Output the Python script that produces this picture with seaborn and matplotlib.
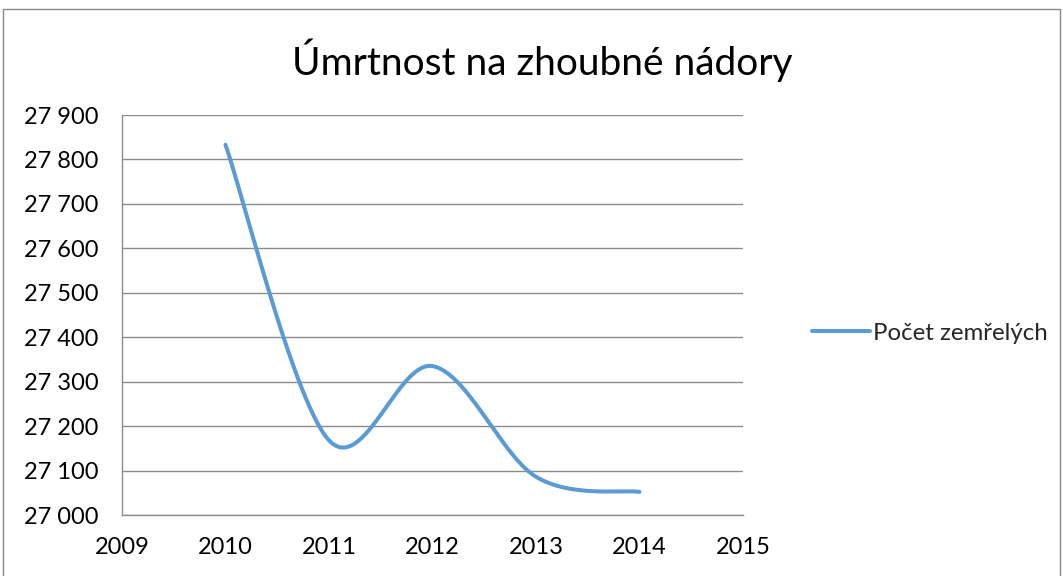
import numpy as np
import pandas as pd
import matplotlib
matplotlib.use("Agg")
import matplotlib.pyplot as plt
import seaborn as sns
from matplotlib.patches import Rectangle
from matplotlib.ticker import FuncFormatter

years = [2010, 2011, 2012, 2013, 2014]
deaths = [27833, 27168, 27335, 27086, 27052]
series_name = "Počet zemřelých"
title = "Úmrtnost na zhoubné nádory"
y_ticks = [27000, 27100, 27200, 27300, 27400, 27500, 27600, 27700, 27800, 27900]
x_ticks = [2009, 2010, 2011, 2012, 2013, 2014, 2015]


def smooth(xs, ys, n=60):
    # Excel-like smoothing: Bezier segments with Catmull-Rom control points
    P = np.column_stack([xs, ys]).astype(float)
    pts = []
    for i in range(len(P) - 1):
        p0 = P[i - 1] if i > 0 else P[i]
        p1 = P[i]
        p2 = P[i + 1]
        p3 = P[i + 2] if i + 2 < len(P) else P[i + 1]
        c1 = p1 + (p2 - p0) / 6.0
        c2 = p2 - (p3 - p1) / 6.0
        t = np.linspace(0, 1, n)[:, None]
        seg = ((1 - t) ** 3) * p1 + 3 * ((1 - t) ** 2) * t * c1 + 3 * (1 - t) * t ** 2 * c2 + t ** 3 * p2
        if i > 0:
            seg = seg[1:]
        pts.append(seg)
    pts = np.vstack(pts)
    return pts[:, 0], pts[:, 1]


sx, sy = smooth(years, deaths)
df = pd.DataFrame({"year": sx, "value": sy, "series": series_name})

sns.set_theme(style="white")
plt.rcParams["font.family"] = ["Lato", "DejaVu Sans"]

fig = plt.figure(figsize=(10.63, 5.76), dpi=100)
ax = fig.add_axes([122 / 1063, 1 - 515 / 576, (743 - 122) / 1063, 400 / 576])

sns.lineplot(data=df, x="year", y="value", hue="series", sort=False,
             palette=["#5B9BD5"], linewidth=2.9, ax=ax, legend=True)

grid_c = "#8c8c8c"
ax.set_xlim(2009, 2015)
ax.set_ylim(27000, 27900)
ax.set_xticks(x_ticks)
ax.set_yticks(y_ticks)
ax.yaxis.set_major_formatter(FuncFormatter(lambda v, p: f"{int(v):,}".replace(",", " ")))
ax.grid(axis="y", color=grid_c, linewidth=1.0)
ax.set_axisbelow(True)
for s in ["top", "right"]:
    ax.spines[s].set_visible(False)
for s in ["left", "bottom"]:
    ax.spines[s].set_color(grid_c)
    ax.spines[s].set_linewidth(1.0)
ax.tick_params(axis="both", which="major", direction="out", length=5.8, width=1.0,
               color=grid_c, labelsize=17, labelcolor="black")
ax.tick_params(axis="y", pad=11)
ax.tick_params(axis="x", pad=10)
ax.set_xlabel("")
ax.set_ylabel("")

leg = ax.legend(loc="center left", bbox_to_anchor=(812 / 1063, 1 - 333 / 576),
                bbox_transform=fig.transFigure, frameon=False, fontsize=17.3,
                handlelength=2.4, handletextpad=0.15, borderaxespad=0,
                borderpad=0)

fig.text(0.5103, 1 - 60 / 576, title, ha="center", va="center", fontsize=28, color="black")

fig.patches.append(Rectangle((3 / 1063, -0.01), 1 - 6 / 1063, 1 - 9 / 576 + 0.01,
                             transform=fig.transFigure, fill=False,
                             edgecolor="#888888", linewidth=1.0))

fig.savefig("out.png", dpi=100)
